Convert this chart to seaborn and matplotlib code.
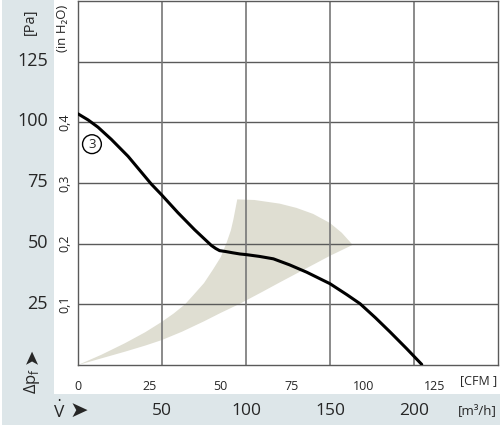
import matplotlib
matplotlib.use("Agg")
import matplotlib.pyplot as plt
import matplotlib.transforms as mtransforms
from matplotlib.patches import Rectangle
import seaborn as sns

# ---- data (flow in m3/h, pressure in inH2O) ----
curve_flow = [0, 6, 11.9, 19.8, 29.8, 43.7, 49.6, 59.5, 69.4, 79.4, 82, 84.3, 88, 92, 96.4, 100,
              108, 116.3, 126, 136.1, 150, 160, 167.9, 177, 185.7, 195.6, 204.6]
curve_pres = [0.414, 0.404, 0.392, 0.372, 0.344, 0.298, 0.281, 0.251, 0.223, 0.197, 0.192, 0.1885,
              0.187, 0.185, 0.183, 0.182, 0.179, 0.175, 0.165, 0.153, 0.134, 0.116, 0.101, 0.078,
              0.0546, 0.027, 0.001]

range_upper_flow = [0, 14, 28, 40, 49.8, 57, 63.7, 68.6, 75, 80.5, 85, 88.5, 91, 92.5, 94.8,
                    105, 120, 130, 140, 150, 157, 163.5]
range_upper_pres = [0, 0.017, 0.036, 0.054, 0.071, 0.085, 0.100, 0.115, 0.135, 0.158, 0.178,
                    0.202, 0.222, 0.240, 0.273, 0.272, 0.266, 0.259, 0.249, 0.234, 0.218, 0.198]
range_lower_flow = [150, 135, 120, 110, 96.4, 85, 75, 62, 49.8, 40, 28, 14, 0]
range_lower_pres = [0.180, 0.158, 0.136, 0.121, 0.101, 0.086, 0.072, 0.055, 0.041, 0.032,
                    0.022, 0.011, 0]

cfm_ticks = [0, 25, 50, 75, 100, 125]
m3h_ticks = [50, 100, 150, 200]
pa_ticks = [25, 50, 75, 100, 125]
inh2o_ticks = [0.1, 0.2, 0.3, 0.4, 0.5]
inh2o_labels = ["0,1", "0,2", "0,3", "0,4", ""]
curve_label = "3"

CFM_TO_M3H = 1.699
PA_PER_INH2O = 249.09

sns.set_style("white")
plt.rcParams['font.family'] = ['Open Sans', 'DejaVu Sans']

W, H = 500, 429
fig = plt.figure(figsize=(W / 100, H / 100), dpi=100)

band = '#dde6e9'
fig.patches.append(Rectangle((2 / W, 4 / H), 52 / W, 1 - 4 / H, transform=fig.transFigure,
                             facecolor=band, edgecolor='none', zorder=-5))
fig.patches.append(Rectangle((2 / W, 4 / H), 1 - 2 / W, 31 / H, transform=fig.transFigure,
                             facecolor=band, edgecolor='none', zorder=-5))

ax = fig.add_axes([78 / W, 1 - 365 / H, 420 / W, 364 / H])
ax.set_xlim(0, 250)
ax.set_ylim(0, 0.6)

gridc = '#5a5a5a'
for v in inh2o_ticks:
    ax.axhline(v, color=gridc, lw=1.0, zorder=1)
for v in m3h_ticks:
    ax.axvline(v, color='#777777', lw=1.2, zorder=1)

poly_x = range_upper_flow + range_lower_flow
poly_y = range_upper_pres + range_lower_pres
ax.fill(poly_x, poly_y, color='#dfded2', lw=0, zorder=0.5)

sns.lineplot(x=curve_flow, y=curve_pres, ax=ax, color='black', lw=2.2, zorder=3)

ax.text(8.3, 0.364, curve_label, ha='center', va='center', fontsize=9.5, zorder=4,
        bbox=dict(boxstyle='circle,pad=0.22', fc='white', ec='black', lw=1.0))

for s in ax.spines.values():
    s.set_color(gridc)
    s.set_linewidth(1.0)

ax.set_xticks([c * CFM_TO_M3H for c in cfm_ticks])
ax.set_xticklabels([str(c) for c in cfm_ticks], fontsize=9)
ax.tick_params(axis='x', direction='out', length=5, width=1, color=gridc, pad=6)
ax.set_yticks(inh2o_ticks)
ax.set_yticklabels(inh2o_labels, fontsize=9, rotation=90, va='center')
ax.tick_params(axis='y', direction='out', length=3, width=1, color=gridc, pad=2)

# Pa labels on left band
tr_pa = mtransforms.blended_transform_factory(fig.transFigure, ax.transData)
for p in pa_ticks:
    fig.text(48 / W, p / PA_PER_INH2O, str(p), transform=tr_pa, ha='right', va='center',
             fontsize=13)

# m3/h labels in bottom band
tr_m3 = mtransforms.blended_transform_factory(ax.transData, fig.transFigure)
for m in m3h_ticks:
    fig.text(m, 1 - 411 / H, str(m), transform=tr_m3, ha='center', va='center',
             fontsize=12.5)

def ft(px, py, s, **kw):
    fig.text(px / W, 1 - py / H, s, **kw)

ft(30, 22, "[Pa]", rotation=90, ha='center', va='center', fontsize=10.5)
ft(63, 28, "(in H₂O)", rotation=90, ha='center', va='center', fontsize=9.5)
ft(497, 381, "[CFM ]", ha='right', va='center', fontsize=9)
ft(497, 411, "[m³/h]", ha='right', va='center', fontsize=9.5)
ft(32, 356, "➤", rotation=90, ha='center', va='center', fontsize=14, family=['DejaVu Sans'])
ft(32, 381, r"Δp$_\mathregular{f}$", rotation=90, ha='center', va='center', fontsize=12)
ft(59, 411, r"$\dot{\mathregular{V}}$", ha='center', va='center', fontsize=12.5)
ft(79, 411, "➤", ha='center', va='center', fontsize=16, family=['DejaVu Sans'])

fig.savefig("out.png", dpi=100)
